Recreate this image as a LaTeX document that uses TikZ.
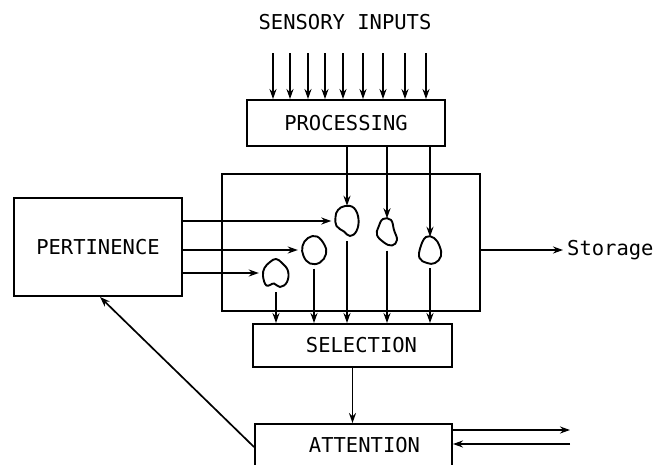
\documentclass[tikz,border=0pt]{standalone}
\usepackage{fontspec}
\setmonofont{DejaVu Sans Mono}
\usetikzlibrary{arrows.meta}
\begin{document}
\begin{tikzpicture}[x=1pt,y=-1pt,
  lbl/.style={font=\ttfamily\fontsize{20.5}{22}\selectfont, inner sep=0pt},
  box/.style={draw, line width=1.9pt, inner sep=0pt, lbl},
  arr/.style={line width=1.7pt, -{Stealth[length=10pt,width=7pt]}},
  blob/.style={line width=1.9pt},
  blobnode/.style={inner sep=0pt, draw=none}]
\useasboundingbox (0,0) rectangle (662,464);

% labels and boxes
\node[lbl] (sens) at (345,22) {SENSORY INPUTS};
\node[box, minimum width=198pt, minimum height=46pt] (proc) at (346,123) {PROCESSING};
\node[box, minimum width=258pt, minimum height=137pt] (store) at (351,242.5) {};
\node[box, minimum width=168pt, minimum height=98pt] (pert) at (98,247) {PERTINENCE};
\node[box, minimum width=199pt, minimum height=43pt] (sel) at (352.5,345.5) {\hspace*{18pt}SELECTION};
\node[box, minimum width=197pt, minimum height=42pt] (att) at (353.5,445) {\hspace*{22pt}ATTENTION};
\node[lbl, anchor=west] (st) at (567,250) {Storage};

% blobs
\node[blobnode, minimum width=23pt, minimum height=30pt] (b1) at (347,221) {};
\node[blobnode, minimum width=20pt, minimum height=27pt] (b2) at (387,232) {};
\node[blobnode, minimum width=22pt, minimum height=26pt] (b3) at (430,250) {};
\node[blobnode, minimum width=24pt, minimum height=27pt] (b4) at (314,250) {};
\node[blobnode, minimum width=26pt, minimum height=28pt] (b5) at (276,273) {};

\begin{scope}[shift={(b1.center)}]
\draw[blob] plot[smooth cycle, tension=0.7] coordinates {(-9,-11) (-2,-15) (7,-13) (11.5,-2) (9.5,10) (3,15) (-3,10.5) (-10.5,5) (-11.5,-4)};
\end{scope}
\begin{scope}[shift={(b2.center)}]
\draw[blob] plot[smooth cycle, tension=0.7] coordinates {(-4,-13) (4,-12) (7,-2) (10,8) (5,13.5) (-3,10.5) (-10,3) (-8.5,-5)};
\end{scope}
\begin{scope}[shift={(b3.center)}]
\draw[blob] plot[smooth cycle, tension=0.7] coordinates {(-4,-13) (4,-12) (9.5,-4) (11,6) (5,13) (-3,13) (-10.5,8) (-9.5,-3)};
\end{scope}
\begin{scope}[shift={(b4.center)}]
\draw[blob] plot[smooth cycle, tension=0.7] coordinates {(-6,-12) (3,-13.5) (10.5,-5) (12,4) (6,12.5) (-4,13.5) (-10.5,6) (-11.5,-4)};
\end{scope}
\begin{scope}[shift={(b5.center)}]
\draw[blob] plot[smooth cycle, tension=0.7] coordinates {(-6,-11) (0,-14) (6,-10) (12,-2) (11,9) (4,14) (-2,10.5) (-9.5,12.5) (-13,3) (-11.5,-5)};
\end{scope}

% sensory input arrows
\foreach \x [count=\i] in {273,290,308,325,343,363,383,405,426} {
  \coordinate (in\i) at (\x,53);
  \draw[arr] (in\i) -- (in\i |- proc.north);
}

% processing to blobs
\foreach \b in {b1,b2,b3} {
  \draw[arr] (\b |- proc.south) -- (\b.north);
}

% blobs to selection
\foreach \b in {b1,b2,b3,b4,b5} {
  \draw[arr, shorten <=5pt] (\b.south) -- (\b |- sel.north);
}

% pertinence to blobs
\foreach \b in {b1,b4,b5} {
  \draw[arr, shorten >=4pt] (pert.east |- \b) -- (\b.west);
}

% storage output
\draw[arr] (st.west -| store.east) -- ([xshift=-4pt]st.west);

% selection to attention
\draw[arr] (sel.south) -- (sel.south |- att.north);

% attention back to pertinence
\draw[arr] ([yshift=-2pt]att.west) -- ([xshift=2pt]pert.south);

% attention outputs
\coordinate (o1) at (570,430);
\coordinate (o2) at (570,444);
\draw[arr] (att.east |- o1) -- (o1);
\draw[arr] (o2) -- (att.east |- o2);
\end{tikzpicture}
\end{document}
